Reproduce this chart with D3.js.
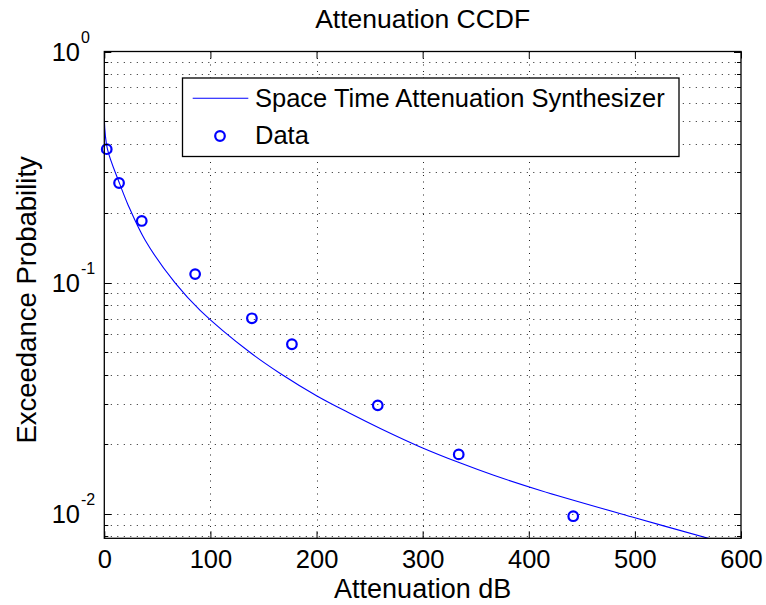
<!DOCTYPE html>
<html>
<head>
<meta charset="utf-8">
<script src="https://cdn.jsdelivr.net/npm/d3@7"></script>
<style>
  body { margin: 0; background: #fff; }
  svg { display: block; font-family: 'Liberation Sans', Arial, sans-serif; }
</style>
</head>
<body>
<div id="chart"></div>
<script>
// synthesizer curve
const curveX = [0, 2.8, 14.2, 22.6, 38.4, 66.7, 90.3, 137.5, 165.8, 200.4, 231.8, 260.1, 297.8, 335.6, 367, 411, 500, 570]
const curveY = [0.514, 0.381, 0.270, 0.216, 0.153, 0.0998, 0.0760, 0.0499, 0.0405, 0.0324, 0.0272, 0.02344, 0.0195, 0.0166, 0.0147, 0.01264, 0.00963, 0.00783]

// measured data points
const dataX = [2.3, 13.9, 35.3, 85.6, 139.1, 176.8, 257.7, 334, 441.9]
const dataY = [0.378, 0.270, 0.185, 0.109, 0.0702, 0.0542, 0.0295, 0.0181, 0.00978]

const xTicks = [0, 100, 200, 300, 400, 500, 600]
const yDecades = [1, 0.1, 0.01]
const yDecadeLabels = ['0', '-1', '-2']
const yMinor = [0.9, 0.8, 0.7, 0.6, 0.5, 0.4, 0.3, 0.2, 0.09, 0.08, 0.07, 0.06, 0.05, 0.04, 0.03, 0.02, 0.009, 0.008]

const legendLabels = ['Space Time Attenuation Synthesizer', 'Data']

const width = 766
const height = 605
const margin = { left: 104.3, right: 766 - 741, top: 51.5, bottom: 605 - 538.3 }
const blue = '#0000ff'

const svg = d3.select('#chart')
  .append('svg')
  .attr('width', width)
  .attr('height', height)

const x = d3.scaleLinear()
  .domain([0, 600])
  .range([margin.left, width - margin.right])

const y = d3.scaleLog()
  .domain([0.00785, 1])
  .range([height - margin.bottom, margin.top])

const x0 = x.range()[0]
const x1 = x.range()[1]
const y0 = y.range()[0]
const y1 = y.range()[1]

// dotted grid
const grid = svg.append('g')
  .attr('stroke', '#222')
  .attr('stroke-width', 1)
  .attr('stroke-dasharray', '1 5.5')

grid.selectAll('.vgrid')
  .data(xTicks.slice(1, -1))
  .enter()
  .append('line')
  .attr('x1', d => Math.round(x(d)) + 0.5)
  .attr('x2', d => Math.round(x(d)) + 0.5)
  .attr('y1', y1)
  .attr('y2', y0)

grid.selectAll('.hgrid')
  .data(yDecades.slice(1).concat(yMinor))
  .enter()
  .append('line')
  .attr('x1', x0)
  .attr('x2', x1)
  .attr('y1', d => Math.round(y(d)) + 0.5)
  .attr('y2', d => Math.round(y(d)) + 0.5)

// clip for the curve
svg.append('clipPath')
  .attr('id', 'plotclip')
  .append('rect')
  .attr('x', x0)
  .attr('y', y1)
  .attr('width', x1 - x0)
  .attr('height', y0 - y1)

const line = d3.line()
  .x(d => x(d[0]))
  .y(d => y(d[1]))
  .curve(d3.curveCatmullRom.alpha(0.5))

svg.append('path')
  .datum(d3.zip(curveX, curveY))
  .attr('clip-path', 'url(#plotclip)')
  .attr('fill', 'none')
  .attr('stroke', blue)
  .attr('stroke-width', 1.1)
  .attr('d', line)

svg.selectAll('.pt')
  .data(d3.zip(dataX, dataY))
  .enter()
  .append('circle')
  .attr('cx', d => x(d[0]))
  .attr('cy', d => y(d[1]))
  .attr('r', 4.8)
  .attr('fill', 'none')
  .attr('stroke', blue)
  .attr('stroke-width', 2.2)

// axes box and ticks
const axisG = svg.append('g')

axisG.append('g')
  .attr('transform', `translate(0,${y0})`)
  .call(d3.axisBottom(x).tickValues(xTicks).tickSize(-7).tickFormat(d3.format('d')))
  .call(g => g.select('.domain').remove())
  .call(g => g.selectAll('text')
    .attr('y', 30)
    .attr('dy', 0)
    .attr('fill', '#000')
    .style('font-size', '25.5px'))

axisG.append('g')
  .attr('transform', `translate(0,${y1})`)
  .call(d3.axisTop(x).tickValues(xTicks).tickSize(-7).tickFormat(''))
  .call(g => g.select('.domain').remove())

axisG.selectAll('.tick line')
  .attr('stroke', '#000')

const yTickData = yDecades.map(d => ({ v: d, len: 7 }))
  .concat(yMinor.map(d => ({ v: d, len: 4 })))

axisG.selectAll('.ytickL')
  .data(yTickData)
  .enter()
  .append('line')
  .attr('x1', x0)
  .attr('x2', d => x0 + d.len)
  .attr('y1', d => Math.round(y(d.v)) + 0.5)
  .attr('y2', d => Math.round(y(d.v)) + 0.5)
  .attr('stroke', '#000')

axisG.selectAll('.ytickR')
  .data(yTickData)
  .enter()
  .append('line')
  .attr('x1', x1)
  .attr('x2', d => x1 - d.len)
  .attr('y1', d => Math.round(y(d.v)) + 0.5)
  .attr('y2', d => Math.round(y(d.v)) + 0.5)
  .attr('stroke', '#000')

const ylab = axisG.selectAll('.ylab')
  .data(yDecades)
  .enter()
  .append('g')
  .attr('transform', d => `translate(0,${y(d)})`)

ylab.append('text')
  .attr('x', 80)
  .attr('y', 9.5)
  .attr('text-anchor', 'end')
  .style('font-size', '25.5px')
  .text('10')

ylab.append('text')
  .attr('x', 81)
  .attr('y', -8.5)
  .style('font-size', '16px')
  .text((d, i) => yDecadeLabels[i])

axisG.append('rect')
  .attr('x', x0)
  .attr('y', y1)
  .attr('width', x1 - x0)
  .attr('height', y0 - y1)
  .attr('fill', 'none')
  .attr('stroke', '#000')
  .attr('stroke-width', 1.3)

// legend
const legend = svg.append('g')

legend.append('rect')
  .attr('x', 182.5)
  .attr('y', 78)
  .attr('width', 496.5)
  .attr('height', 78.5)
  .attr('fill', '#fff')
  .attr('stroke', '#000')
  .attr('stroke-width', 1.3)

legend.append('line')
  .attr('x1', 192.7)
  .attr('x2', 248.3)
  .attr('y1', 98.3)
  .attr('y2', 98.3)
  .attr('stroke', blue)
  .attr('stroke-width', 1.1)

legend.append('circle')
  .attr('cx', 220)
  .attr('cy', 136)
  .attr('r', 4.8)
  .attr('fill', 'none')
  .attr('stroke', blue)
  .attr('stroke-width', 2.2)

legend.selectAll('.ltext')
  .data(legendLabels)
  .enter()
  .append('text')
  .attr('x', 255)
  .attr('y', (d, i) => [107, 143.5][i])
  .style('font-size', '25.5px')
  .text(d => d)

// titles
svg.append('text')
  .attr('x', (x0 + x1) / 2)
  .attr('y', 28)
  .attr('text-anchor', 'middle')
  .style('font-size', '26.5px')
  .text('Attenuation CCDF')

svg.append('text')
  .attr('x', (x0 + x1) / 2)
  .attr('y', 597.5)
  .attr('text-anchor', 'middle')
  .style('font-size', '27px')
  .text('Attenuation dB')

svg.append('text')
  .attr('transform', `translate(36,${(y0 + y1) / 2 + 5}) rotate(-90)`)
  .attr('text-anchor', 'middle')
  .style('font-size', '27.5px')
  .text('Exceedance Probability')
</script>
</body>
</html>
